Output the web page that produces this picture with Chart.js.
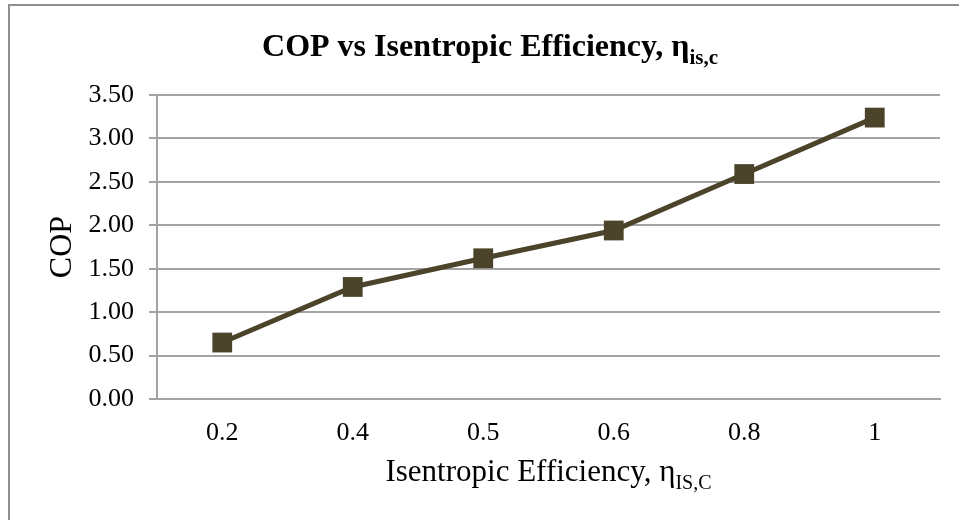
<!DOCTYPE html>
<html>
<head>
  <title>COP vs Isentropic Efficiency</title>
  <script src="https://cdn.jsdelivr.net/npm/chart.js"></script>
  <style>
    body { margin: 0; background: #fff; }
    #wrap { width: 959px; height: 520px; }
  </style>
</head>
<body>
  <div id="wrap"><canvas id="cop-chart" width="959" height="520"></canvas></div>

  <script>
    // data
    let efficiencies = ["0.2", "0.4", "0.5", "0.6", "0.8", "1"];
    let copValues = [0.65, 1.29, 1.62, 1.94, 2.59, 3.24];
    let yTicks = [0, 0.5, 1, 1.5, 2, 2.5, 3, 3.5];

    let serif = "'Liberation Serif', 'Times New Roman', serif";
    let gridGray = "#a3a3a3";
    let markColor = "#4b442a";

    // draws a string followed by a subscript part
    function drawSubText(ctx, main, sub, cx, baseline, size, bold) {
      let w = bold ? "bold " : "";
      ctx.font = w + size + "px " + serif;
      let mainW = ctx.measureText(main).width;
      let subSize = Math.round(size * 0.66);
      ctx.font = w + subSize + "px " + serif;
      let subW = ctx.measureText(sub).width;
      let x0 = cx - (mainW + subW) / 2;
      ctx.fillStyle = "#000";
      ctx.textAlign = "left";
      ctx.textBaseline = "alphabetic";
      ctx.font = w + size + "px " + serif;
      ctx.fillText(main, x0, baseline);
      ctx.font = w + subSize + "px " + serif;
      ctx.fillText(sub, x0 + mainW, baseline + size * 0.25);
    }

    let titlePlugin = {
      id: "subTitles",
      beforeDraw(chart) {
        let ctx = chart.ctx;
        ctx.save();
        ctx.strokeStyle = "#8e8e8e";
        ctx.lineWidth = 2;
        ctx.strokeRect(9, 5, 1000, 600);
        ctx.restore();
      },
      afterDraw(chart) {
        let ctx = chart.ctx;
        let area = chart.chartArea;
        ctx.save();
        drawSubText(ctx, "COP vs Isentropic Efficiency, η", "is,c", 490, 56, 32, true);
        drawSubText(ctx, "Isentropic Efficiency, η", "IS,C", (area.left + area.right) / 2, 481, 31, false);
        ctx.restore();
      }
    };

    let chart = new Chart(document.getElementById("cop-chart"), {
      type: "line",
      data: {
        labels: efficiencies,
        datasets: [{
          label: "COP",
          data: copValues,
          borderColor: markColor,
          backgroundColor: markColor,
          borderWidth: 5,
          pointStyle: "rect",
          pointRadius: 14,
          pointHoverRadius: 14,
          pointBorderWidth: 0,
          tension: 0
        }]
      },
      options: {
        responsive: false,
        animation: false,
        layout: { padding: { left: 10, top: 95, right: 19, bottom: 0 } },
        plugins: {
          legend: { display: false },
          title: { display: false },
          tooltip: { enabled: false }
        },
        scales: {
          x: {
            offset: true,
            grid: { display: false, drawTicks: false },
            border: { display: true, color: gridGray, width: 2 },
            ticks: {
              color: "#000",
              padding: 19,
              font: { family: serif, size: 26 }
            },
            afterFit(scale) { scale.height = 121; }
          },
          y: {
            min: 0,
            max: 3.5,
            afterBuildTicks(scale) {
              scale.ticks = yTicks.map(v => ({ value: v }));
            },
            grid: { color: gridGray, lineWidth: 2, tickLength: 8 },
            border: { display: true, color: gridGray, width: 2 },
            ticks: {
              color: "#000",
              padding: 15,
              font: { family: serif, size: 26 },
              callback: v => Number(v).toFixed(2)
            },
            title: {
              display: true,
              text: "COP",
              color: "#000",
              padding: { top: 33, bottom: 0 },
              font: { family: serif, size: 32 }
            },
            afterFit(scale) { scale.width = 147; }
          }
        }
      },
      plugins: [titlePlugin]
    });
  </script>
</body>
</html>
